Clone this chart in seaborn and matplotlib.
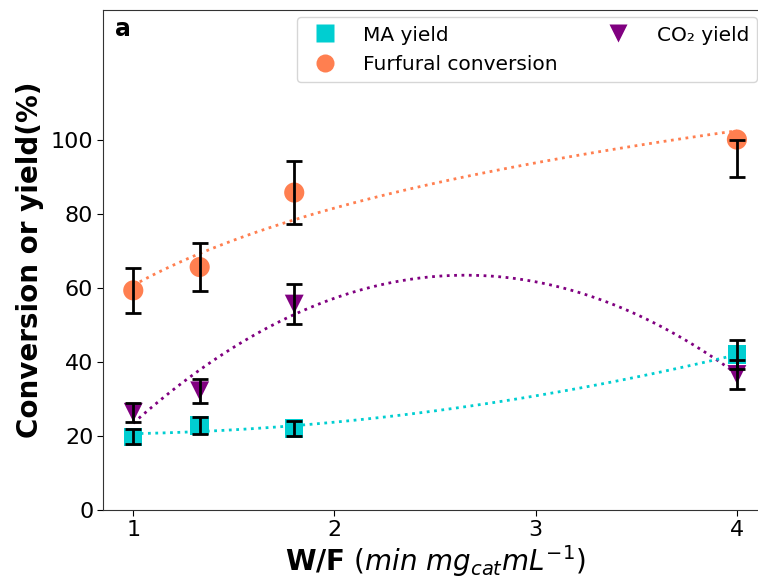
import numpy as np
import pandas as pd
import matplotlib
matplotlib.use("Agg")
import matplotlib.pyplot as plt
import seaborn as sns
from matplotlib.lines import Line2D

sns.set_style("ticks")
plt.rcParams['font.family'] = ['DejaVu Sans']
for k in ["text.color", "axes.labelcolor", "xtick.color", "ytick.color"]:
    plt.rcParams[k] = "black"

# ---- data ----
wf = [1.0, 1.33, 1.8, 4.0]
ma_yield = [19.8, 22.8, 22.0, 42.0]
ma_err = [2.0, 2.2, 2.0, 4.0]
furfural_conv = [59.3, 65.6, 85.7, 100.0]
furfural_err_low = [6.0, 6.5, 8.5, 10.0]
furfural_err_high = [6.0, 6.5, 8.5, 0.0]
co2_yield = [26.4, 32.2, 55.6, 36.6]
co2_err = [2.5, 3.2, 5.5, 3.8]

labels = ["MA yield", "Furfural conversion", "CO\u2082 yield"]
colors = ["#00CED1", "#FF7F50", "#800080"]
markers = ["s", "o", "v"]
yticks = [0, 20, 40, 60, 80, 100]
xticks = [1, 2, 3, 4]

df_ma = pd.DataFrame({"x": wf, "y": ma_yield})
df_fu = pd.DataFrame({"x": wf, "y": furfural_conv})
df_co = pd.DataFrame({"x": wf, "y": co2_yield})

fig = plt.figure(figsize=(7.58, 5.81), dpi=100)
ax = fig.add_axes([0.136, 0.122, 0.876, 0.861])

# fitted trend lines
sns.regplot(data=df_fu, x="x", y="y", logx=True, scatter=False, ci=None, ax=ax,
            line_kws=dict(color=colors[1], ls=":", lw=2))
sns.regplot(data=df_co, x="x", y="y", order=2, scatter=False, ci=None, ax=ax,
            line_kws=dict(color=colors[2], ls=":", lw=2))
sns.regplot(data=df_ma, x="x", y="y", order=2, scatter=False, ci=None, ax=ax,
            line_kws=dict(color=colors[0], ls=":", lw=2))

# markers
sns.scatterplot(data=df_ma, x="x", y="y", marker="s", color=colors[0], s=175,
                edgecolor="none", ax=ax, zorder=3)
sns.scatterplot(data=df_fu, x="x", y="y", marker="o", color=colors[1], s=210,
                edgecolor="none", ax=ax, zorder=3)
sns.scatterplot(data=df_co, x="x", y="y", marker="v", color=colors[2], s=185,
                edgecolor="none", ax=ax, zorder=3)

# error bars
ekw = dict(fmt="none", ecolor="black", elinewidth=2, capsize=6, capthick=2, zorder=4)
ax.errorbar(wf, ma_yield, yerr=ma_err, **ekw)
ax.errorbar(wf, furfural_conv, yerr=[furfural_err_low, furfural_err_high], **ekw)
ax.errorbar(wf, co2_yield, yerr=co2_err, **ekw)

ax.set_xlim(0.85, 4.15)
ax.set_ylim(0, 135)
ax.set_yticks(yticks)
ax.set_xticks(xticks)
ax.tick_params(labelsize=16, direction="out", length=4, pad=3)
for s in ax.spines.values():
    s.set_color("#333333")
ax.spines["right"].set_visible(False)

ax.set_ylabel("Conversion or yield(%)", fontsize=20, fontweight="bold", labelpad=5)
ax.set_xlabel(r"$\mathbf{W/F}$ ($min\ mg_{cat}mL^{-1}$)", fontsize=20, labelpad=2)
ax.text(0.018, 0.985, "a", transform=ax.transAxes, fontsize=17, fontweight="bold",
        va="top", ha="left")

handles = [Line2D([], [], ls="none", marker=m, color=c, markersize=13, markeredgecolor="none")
           for m, c in zip(markers, colors)]
leg = ax.legend(handles, labels, ncol=2, fontsize=14.5, loc="upper right",
                handletextpad=0.9, columnspacing=2.0, frameon=True,
                bbox_to_anchor=(1.0, 1.005))
leg.get_frame().set_edgecolor("#cccccc")

fig.savefig("out.png", dpi=100)
